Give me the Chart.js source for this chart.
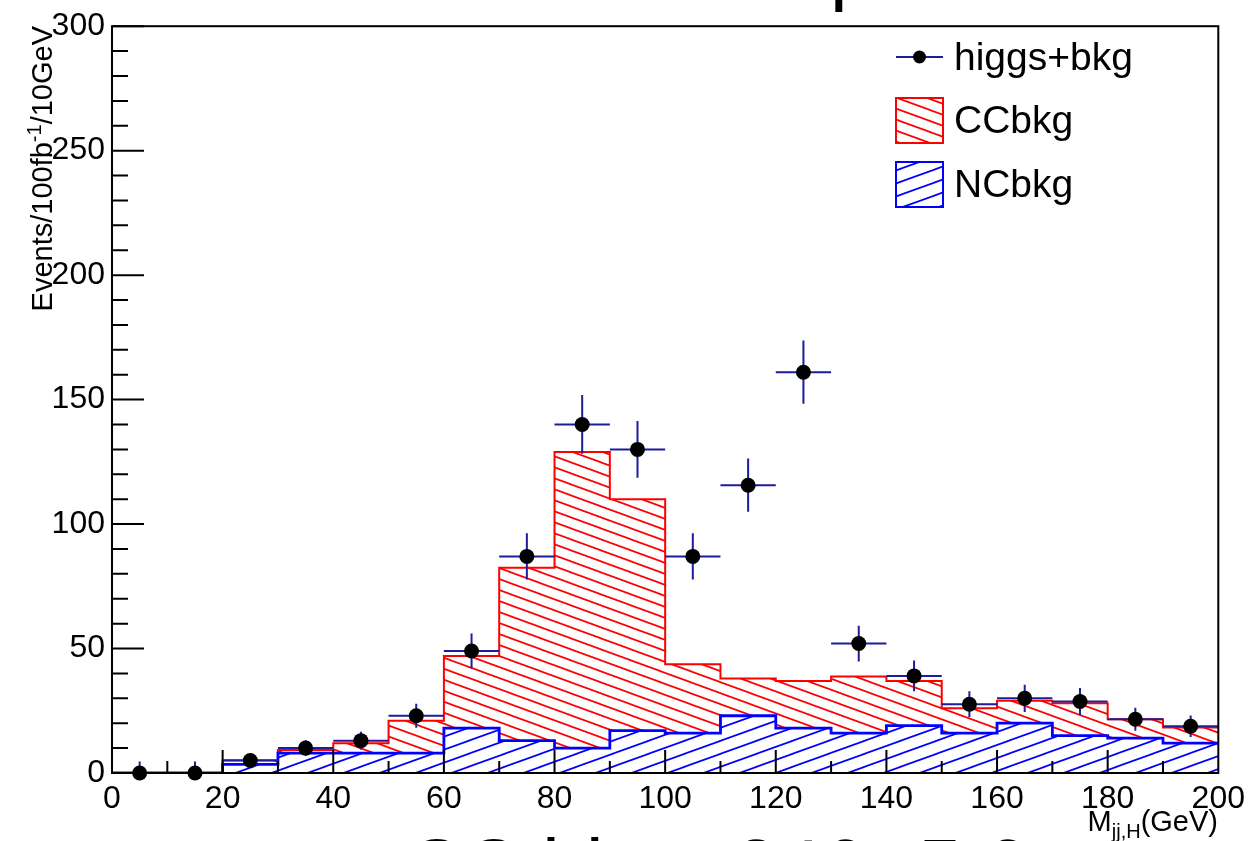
<!DOCTYPE html>
<html><head><meta charset="utf-8">
<script src="https://cdn.jsdelivr.net/npm/chart.js@4/dist/chart.umd.min.js"></script>
<style>
html,body{margin:0;padding:0;background:#fff;}
#wrap{position:relative;width:1252px;height:841px;overflow:hidden;font-family:"Liberation Sans",Arial,Helvetica,sans-serif;color:#000;}
#c{position:absolute;left:0;top:0;}
.t{position:absolute;white-space:nowrap;}
.big{font-size:79px;line-height:79px;top:828px;}
</style></head><body>
<div id="wrap">
<canvas id="c" width="1252" height="841"></canvas>
<svg class="t" style="left:0;top:0" width="1252" height="841">
  <defs>
    <pattern id="rh" patternUnits="userSpaceOnUse" width="30" height="11">
      <path d="M-30,-11 L60,22 M-30,-22 L60,11 M-30,0 L60,33" stroke="#ff0000" stroke-width="1.7"/>
    </pattern>
    <pattern id="bh" patternUnits="userSpaceOnUse" width="36" height="13">
      <path d="M-36,26 L72,-13 M-36,13 L72,-26 M-36,39 L72,0" stroke="#0000ff" stroke-width="1.7"/>
    </pattern>
  </defs>
  <line x1="896" y1="57" x2="943" y2="57" stroke="#1c1c9c" stroke-width="2"/>
  <circle cx="919.5" cy="57" r="6.5" fill="#000"/>
  <rect x="896" y="98" width="47" height="45" fill="url(#rh)" stroke="#ff0000" stroke-width="2"/>
  <rect x="896" y="162" width="47" height="45" fill="url(#bh)" stroke="#0000ff" stroke-width="2"/>
</svg>
<div class="t" style="left:954px;top:37px;font-size:39px;line-height:39px;">higgs+bkg</div>
<div class="t" style="left:954px;top:100px;font-size:39px;line-height:39px;">CCbkg</div>
<div class="t" style="left:954px;top:164px;font-size:39px;line-height:39px;">NCbkg</div>
<div class="t" style="left:52px;top:26px;width:0;height:0;transform:rotate(-90deg);transform-origin:0 0;">
  <div class="t" style="right:0;top:-24.5px;font-size:29px;line-height:29px;">Events/100fb<span style="font-size:20px;position:relative;top:-11px;">-1</span>/10GeV</div>
</div>
<div class="t" style="right:34px;top:807px;font-size:29px;line-height:29px;">M<span style="font-size:20px;position:relative;top:7px;">jj,H</span>(GeV)</div>
<div class="t big" style="left:406px;">CC higgs</div>
<div class="t big" style="left:734px;">246</div>
<div class="t big" style="left:918px;">5.6</div>
<div class="t" style="left:830px;top:-72px;font-size:79px;line-height:79px;">p</div>
</div>
<script>
// ---- data ----
const binEdges   = [0,10,20,30,40,50,60,70,80,90,100,110,120,130,140,150,160,170,180,190,200];
const binCenters = [5,15,25,35,45,55,65,75,85,95,105,115,125,135,145,155,165,175,185,195];
const ncBkg      = [0,0,3.5,8,8,8,18,13,10,17,16,23,18,16,19,16,20,15,14,12];
const ccBkg      = [0,0,1.6,1.2,4,13,29,69.5,119,93,27.7,15,19,22.8,18,10,9,13,7.6,6.3];
const higgsBkg   = [0,0,5,10,13,23,49,87,140,130,87,115.6,161,52,39,27.6,30,28.7,21.6,18.8];
const higgsErr   = [4.6,4.6,2.3,3.2,3.6,4.8,7,9.3,11.8,11.4,9.3,10.7,12.7,7.2,6.2,5.2,5.5,5.4,4.6,4.3];
const binHalfWidth = 5;
const xTickLabels = [0,20,40,60,80,100,120,140,160,180,200];
const yTickLabels = [0,50,100,150,200,250,300];

const canvas = document.getElementById('c');
const ctx = canvas.getContext('2d');

function hatch(color, w, h, lw, up){
  const c = document.createElement('canvas'); c.width = w; c.height = h;
  const g = c.getContext('2d'); g.strokeStyle = color; g.lineWidth = lw;
  g.beginPath();
  for (let k=-1;k<=1;k++){
    if (up){ g.moveTo(-w, 2*h + k*h); g.lineTo(2*w, -h + k*h); }
    else   { g.moveTo(-w, -h + k*h);  g.lineTo(2*w, 2*h + k*h); }
  }
  g.stroke();
  return ctx.createPattern(c, 'repeat');
}

const stepData = vals => binEdges.map((e,i)=>({x:e, y: vals[Math.min(i, vals.length-1)]}));
const ccTop = ncBkg.map((v,i)=>v + ccBkg[i]);

const errData = [];
binCenters.forEach((c,i)=>{
  const v = higgsBkg[i], e = higgsErr[i];
  errData.push({x:c-binHalfWidth,y:v},{x:c+binHalfWidth,y:v},{x:c,y:null});
  errData.push({x:c,y:v-e},{x:c,y:v+e},{x:c,y:null});
});

const framePlugin = {
  id:'frame',
  afterDraw(chart){
    const {ctx, chartArea:a, scales:{x,y}} = chart;
    ctx.save();
    ctx.strokeStyle = '#000'; ctx.lineWidth = 2;
    ctx.beginPath();
    for (let v=0; v<=300; v+=10){
      const py = y.getPixelForValue(v);
      const len = (v%50===0) ? 32 : 16;
      ctx.moveTo(a.left, py); ctx.lineTo(a.left+len, py);
    }
    for (let v=10; v<200; v+=10){
      const px = x.getPixelForValue(v);
      const len = (v%20===0) ? 23 : 12;
      ctx.moveTo(px, a.bottom); ctx.lineTo(px, a.bottom-len);
    }
    ctx.stroke();
    ctx.strokeRect(a.left, a.top, a.right-a.left, a.bottom-a.top);
    ctx.restore();
  }
};

const font = {family:'"Liberation Sans", Arial, sans-serif', size:32};

new Chart(ctx, {
  type:'line',
  data:{datasets:[
    {label:'higgs+bkg', data: binCenters.map((c,i)=>({x:c,y:higgsBkg[i]})), showLine:false,
     pointRadius:7.5, pointBackgroundColor:'#000', pointBorderWidth:0, clip:false},
    {label:'err', data: errData, borderColor:'#1c1c9c', borderWidth:2, pointRadius:0, spanGaps:false, fill:false},
    {label:'NCbkg', data: stepData(ncBkg), stepped:true, borderColor:'#0000ff', borderWidth:2.8,
     pointRadius:0, fill:'origin', backgroundColor: hatch('#0000ff',36,13,1.7,true)},
    {label:'CCbkg', data: stepData(ccTop), stepped:true, borderColor:'#ff0000', borderWidth:2,
     pointRadius:0, fill:'-1', backgroundColor: hatch('#ff0000',30,11,1.7,false)}
  ]},
  options:{
    responsive:false, animation:false, events:[],
    layout:{padding:{top:24,right:32,left:0,bottom:0}},
    plugins:{legend:{display:false}, tooltip:{enabled:false}},
    scales:{
      x:{type:'linear', min:0, max:200, afterFit(s){s.height=68;},
         grid:{display:false, drawTicks:false}, border:{display:false},
         afterBuildTicks(s){ s.ticks = xTickLabels.map(v=>({value:v})); },
         ticks:{font, color:'#000', padding:7, maxRotation:0, autoSkip:false}},
      y:{type:'linear', min:0, max:300, afterFit(s){s.width=112;},
         grid:{display:false, drawTicks:false}, border:{display:false},
         afterBuildTicks(s){ s.ticks = yTickLabels.map(v=>({value:v})); },
         ticks:{font, color:'#000', padding:7}}
    }
  },
  plugins:[framePlugin]
});
</script>
</body></html>
